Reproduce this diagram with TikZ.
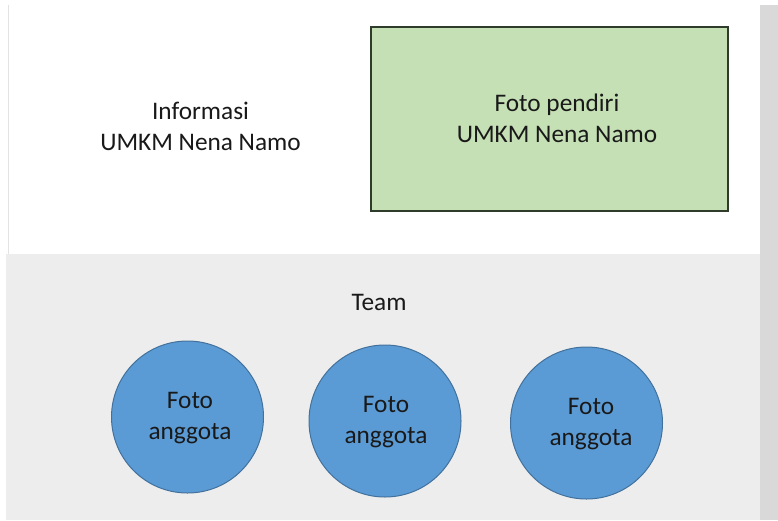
\documentclass[tikz,border=0pt]{standalone}
\usepackage{fontspec}
\setmainfont{Carlito}
\definecolor{panelgray}{HTML}{EDEDED}
\definecolor{sidebar}{HTML}{D9D9D9}
\definecolor{edgeline}{HTML}{E3E3E3}
\definecolor{photogreen}{HTML}{C5E0B4}
\definecolor{photoedge}{HTML}{2F3B2B}
\definecolor{memberblue}{HTML}{5B9BD5}
\definecolor{memberedge}{HTML}{41719C}
\tikzset{
  label/.style={font=\fontsize{25.3}{31}\selectfont, text=black!90, align=center, inner sep=0pt},
  photobox/.style={draw=photoedge, line width=1.3pt, fill=photogreen, rectangle,
    minimum width=357pt, minimum height=184pt, inner sep=0pt},
  member/.style={circle, draw=memberedge, line width=1pt, fill=memberblue,
    minimum size=152pt, inner sep=0pt},
}
\begin{document}
\begin{tikzpicture}[x=1pt, y=-1pt]
  \useasboundingbox (0,0) rectangle (778,520);
  \fill[white] (0,0) rectangle (778,520);
  % team panel and right-hand sidebar
  \fill[panelgray] (6,254) rectangle (760,520);
  \fill[sidebar] (760,5) rectangle (778,520);
  \draw[edgeline, line width=1.6pt] (8.5,5) -- (8.5,254);

  % header: information text and founder photo
  \node[label] (info) at (200.5,126) {Informasi\\UMKM Nena Namo};
  \node[photobox] (founder) at (549.5,119) {};
  \node[label] (foundertext) at (557,118.5) {Foto pendiri\\UMKM Nena Namo};

  % team section
  \node[label] (team) at (379,302) {Team};
  \node[member] (m1) at (187.5,417) {};
  \node[member] (m2) at (385,421) {};
  \node[member] (m3) at (586.5,423) {};
  \node[label] (m1text) at (190,418) {Foto\\anggota};
  \node[label] (m2text) at (386,422) {Foto\\anggota};
  \node[label] (m3text) at (591,424) {Foto\\anggota};
\end{tikzpicture}
\end{document}
